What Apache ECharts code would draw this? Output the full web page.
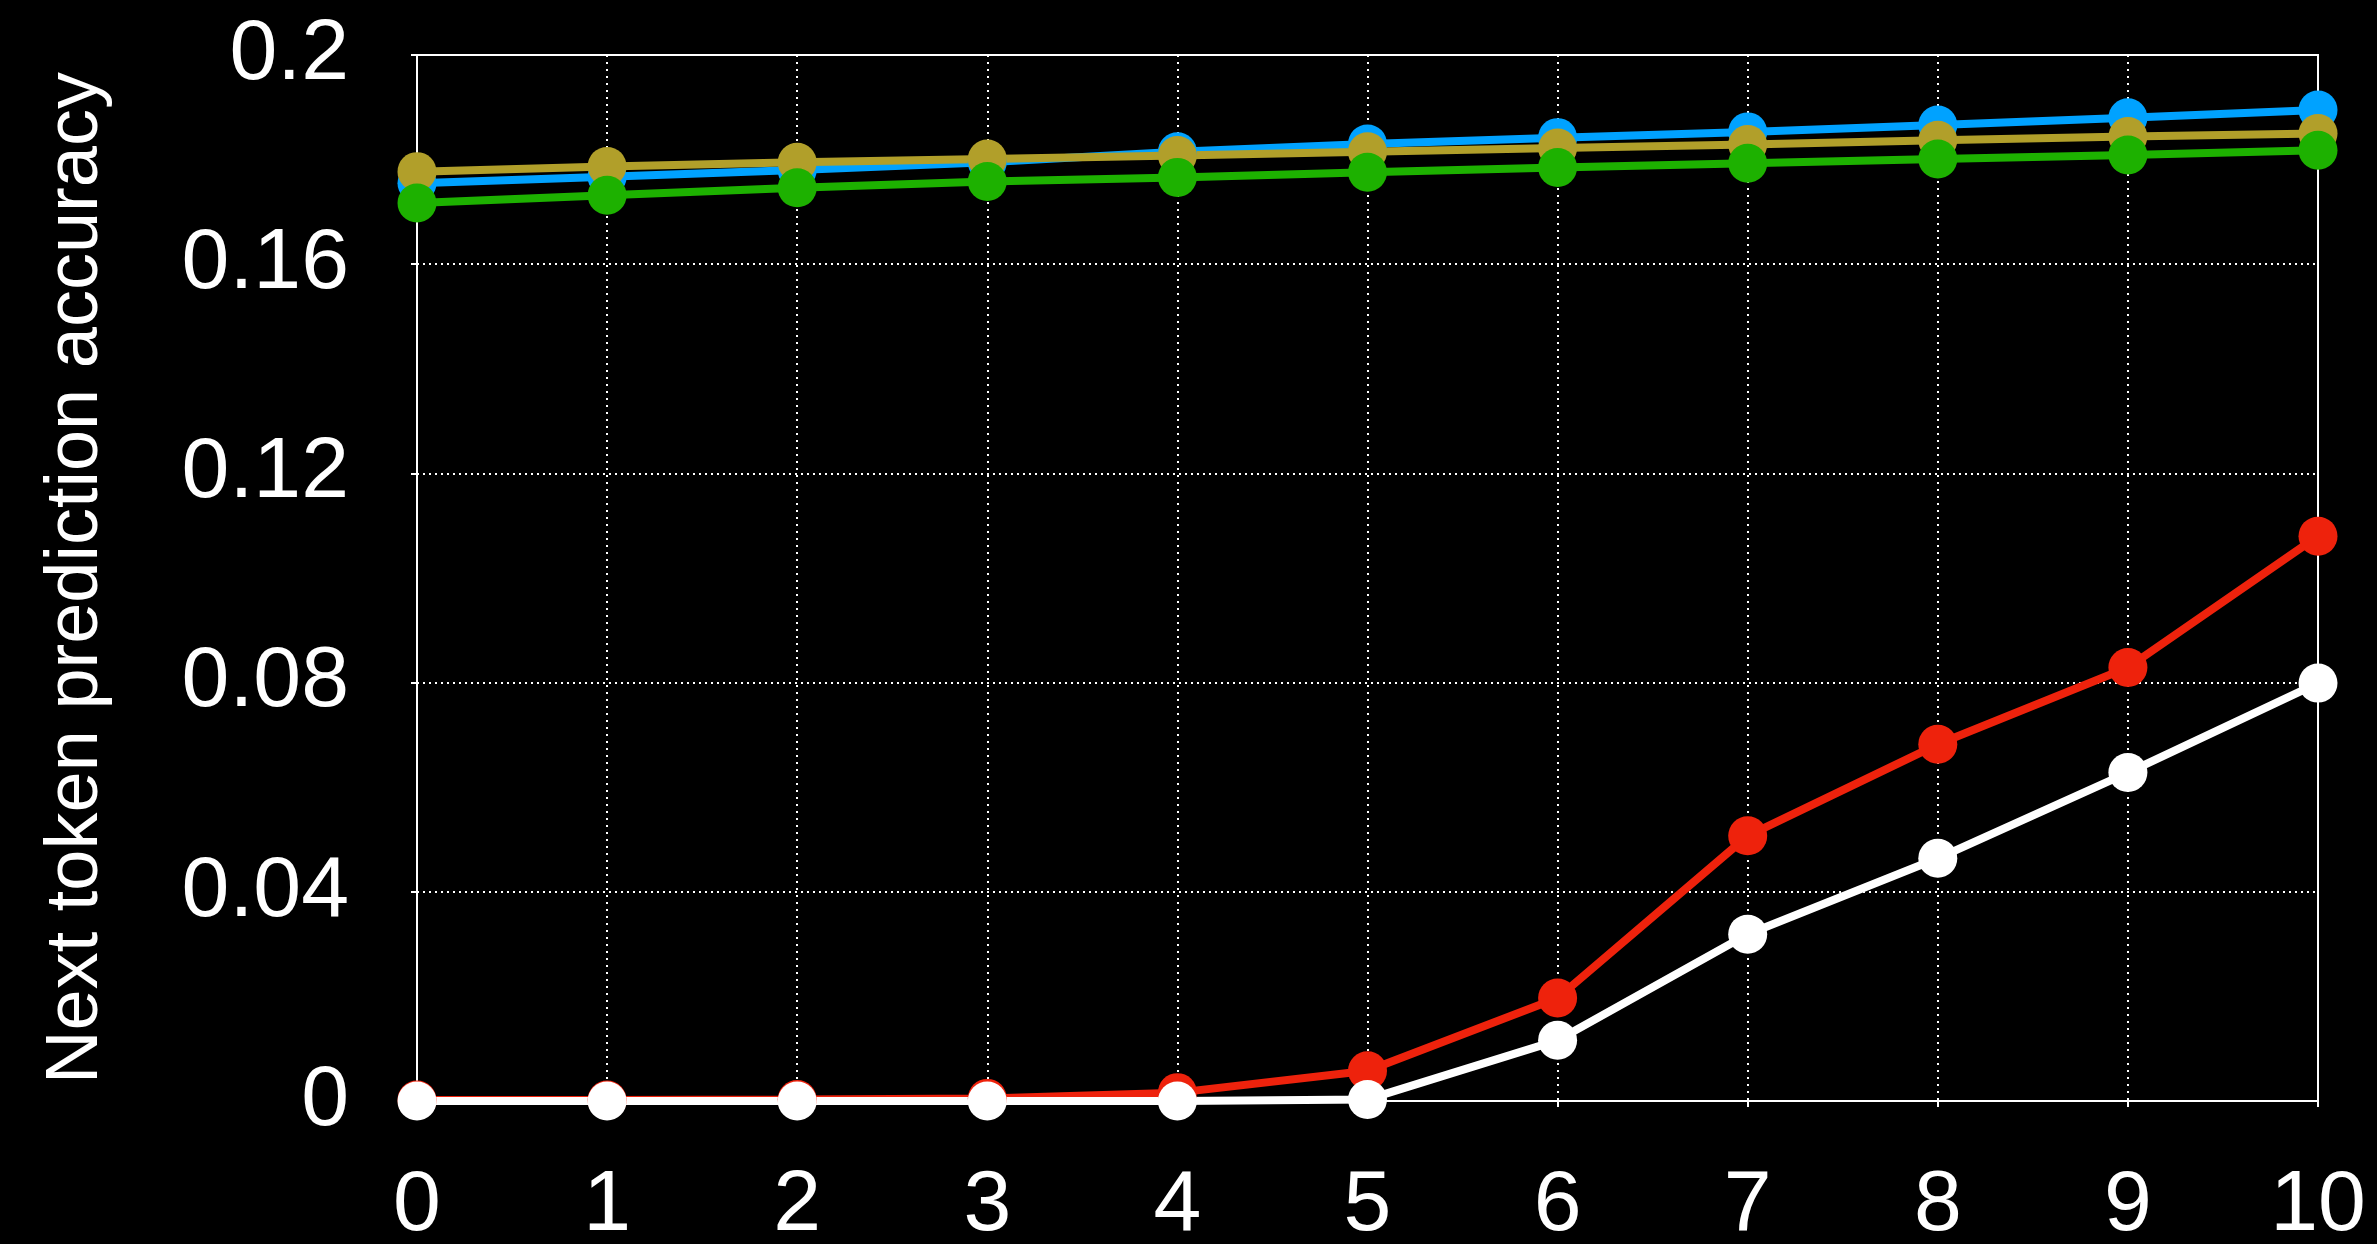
<!DOCTYPE html>
<html>
<head>
<meta charset="utf-8">
<script src="https://cdn.jsdelivr.net/npm/echarts@6/dist/echarts.min.js"></script>
<style>
html,body{margin:0;padding:0;background:#000;}
#chart{width:2377px;height:1244px;}
</style>
</head>
<body>
<div id="chart"></div>
<script>
const categories = ['0','1','2','3','4','5','6','7','8','9','10'];
const yTickLabels = ['0','0.04','0.08','0.12','0.16','0.2'];
const yAxisTitle = 'Next token prediction accuracy';

const redValues   = [0.0002, 0.0002, 0.0003, 0.0005, 0.0016, 0.0058, 0.0197, 0.0507, 0.0682, 0.0829, 0.1080];
const blueValues  = [0.1755, 0.1767, 0.1780, 0.1795, 0.1815, 0.1830, 0.1842, 0.1853, 0.1866, 0.1880, 0.1895];
const goldValues  = [0.1777, 0.1787, 0.1795, 0.1801, 0.1808, 0.1815, 0.1822, 0.1829, 0.1837, 0.1844, 0.1850];
const greenValues = [0.1717, 0.1732, 0.1746, 0.1758, 0.1766, 0.1776, 0.1785, 0.1793, 0.1801, 0.1809, 0.1818];
const whiteValues = [0.0000, 0.0000, 0.0000, 0.0000, 0.0000, 0.0003, 0.0116, 0.0319, 0.0464, 0.0628, 0.0799];

const seriesDefs = [
  {name: 'red',   data: redValues,   color: '#ee220c'},
  {name: 'blue',  data: blueValues,  color: '#00a2ff'},
  {name: 'gold',  data: goldValues,  color: '#b19f2a'},
  {name: 'green', data: greenValues, color: '#1db100'},
  {name: 'white', data: whiteValues, color: '#ffffff'}
];

const chart = echarts.init(document.getElementById('chart'), null, {renderer: 'canvas'});
const font = 'Helvetica, "Liberation Sans", Arial, sans-serif';
chart.setOption({
  backgroundColor: '#000',
  animation: false,
  grid: {left: 417, right: 59, top: 55, bottom: 143, containLabel: false, outerBoundsMode: 'none',
    show: true, borderColor: '#fff', borderWidth: 2, backgroundColor: 'transparent'},
  xAxis: {
    type: 'category',
    data: categories,
    boundaryGap: false,
    axisLine: {show: true, lineStyle: {color: '#fff', width: 2}},
    axisTick: {show: true, length: 6, alignWithLabel: true, lineStyle: {color: '#fff', width: 2}},
    axisLabel: {color: '#fff', fontSize: 86, fontFamily: font, margin: 62, interval: 0},
    splitLine: {show: true, lineStyle: {color: '#fff', width: 2, type: [2, 5]}}
  },
  yAxis: {
    type: 'value',
    min: 0, max: 0.2, interval: 0.04,
    name: yAxisTitle,
    nameLocation: 'middle',
    nameGap: 303,
    nameTextStyle: {color: '#fff', fontSize: 74, fontFamily: font},
    axisLine: {show: true, lineStyle: {color: '#fff', width: 2}},
    axisTick: {show: true, length: 6, lineStyle: {color: '#fff', width: 2}},
    axisLabel: {color: '#fff', fontSize: 86, fontFamily: font, margin: 68,
      formatter: (v) => yTickLabels[Math.round(v / 0.04)]},
    splitLine: {show: true, lineStyle: {color: '#fff', width: 2, type: [2, 4]}}
  },
  series: seriesDefs.map(s => ({
    name: s.name,
    type: 'line',
    data: s.data,
    symbol: 'circle',
    symbolSize: 39,
    showSymbol: true,
    lineStyle: {color: s.color, width: 8},
    itemStyle: {color: s.color},
    emphasis: {disabled: true}
  }))
});
</script>
</body>
</html>
